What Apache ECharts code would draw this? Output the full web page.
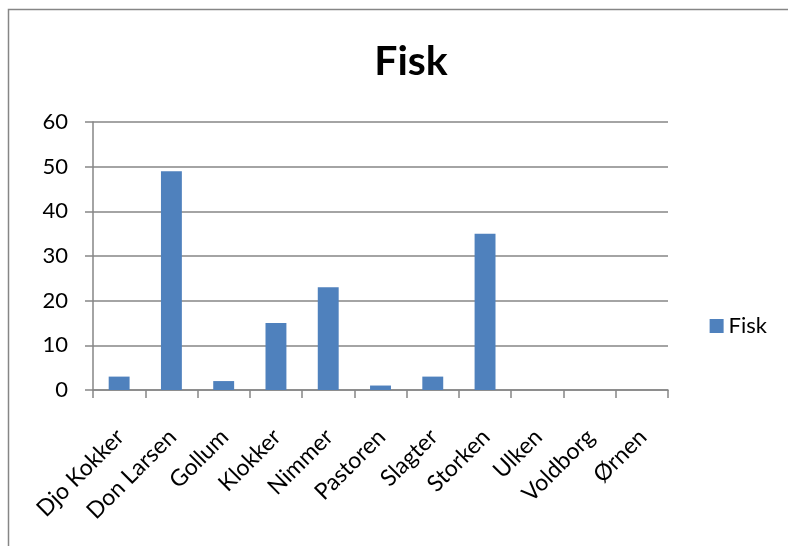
<!DOCTYPE html>
<html><head><meta charset="utf-8">
<script src="https://cdn.jsdelivr.net/npm/echarts@6/dist/echarts.min.js"></script>
<style>html,body{margin:0;padding:0;background:#fff}#c{width:788px;height:546px}</style>
</head><body><div id="c"></div>
<script>
const categories = ["Djo Kokker","Don Larsen","Gollum","Klokker","Nimmer","Pastoren","Slagter","Storken","Ulken","Voldborg","Ørnen"];
const fisk = [3,49,2,15,23,1,3,35,0,0,0];
const yTicks = [0,10,20,30,40,50,60];
const FONT = "Lato, 'Open Sans', sans-serif";
const chart = echarts.init(document.getElementById('c'), null, {renderer:'canvas'});
chart.setOption({
  animation:false,
  backgroundColor:'#fff',
  textStyle:{fontFamily:FONT},
  title:{text:'Fisk', left:406, top:36, textAlign:'center',
    textStyle:{fontFamily:FONT, fontSize:41, fontWeight:'bold', color:'#000'}},
  legend:{right:16, top:310, itemWidth:14, itemHeight:14, itemGap:9,
    icon:'rect', data:['Fisk'],
    textStyle:{fontFamily:FONT, fontSize:22, color:'#000'}},
  grid:{left:93, right:120, top:122, bottom:156, containLabel:false},
  xAxis:{type:'category', data:categories, boundaryGap:true,
    axisLine:{lineStyle:{color:'#868686', width:1.5}},
    axisTick:{show:true, length:8, alignWithLabel:false, lineStyle:{color:'#868686', width:1.5}},
    axisLabel:{rotate:45, interval:0, margin:28, align:'right', verticalAlign:'top',
      padding:[0,10,0,0], fontFamily:FONT, fontSize:23, color:'#000'}},
  yAxis:{type:'value', min:yTicks[0], max:yTicks[yTicks.length-1], interval:10,
    axisLine:{show:true, lineStyle:{color:'#868686', width:1.5}},
    axisTick:{show:true, length:8, lineStyle:{color:'#868686', width:1.5}},
    splitLine:{lineStyle:{color:'#868686', width:1.5}},
    axisLabel:{margin:25, fontFamily:FONT, fontSize:22, color:'#000'}},
  series:[{name:'Fisk', type:'bar', data:fisk, barCategoryGap:'60%',
    itemStyle:{color:'#4f81bd'}}],
  graphic:[{type:'rect', shape:{x:8.5, y:9.5, width:800, height:560},
    style:{fill:'none', stroke:'#868686', lineWidth:1.5}, silent:true}]
});
</script></body></html>
